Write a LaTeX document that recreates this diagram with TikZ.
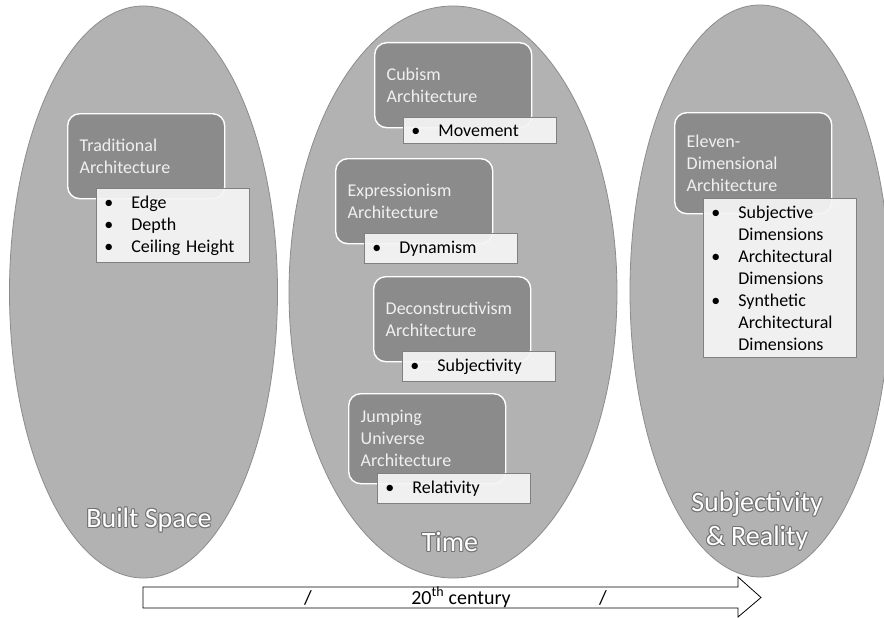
\documentclass[tikz,border=0pt]{standalone}
\usepackage{fontspec}
\setmainfont{Carlito}

\definecolor{realmfill}{gray}{0.70}
\definecolor{realmedge}{gray}{0.55}
\definecolor{archfill}{gray}{0.545}
\definecolor{zoneedge}{gray}{0.45}

\newcommand{\itm}[1]{\makebox[27pt][l]{\textbullet}#1}
% white title with a grey rim
\newcommand{\zonelabel}[3]{%
\foreach \ox/\oy in {1/0,-1/0,0/1,0/-1,0.7/0.7,-0.7/0.7,0.7/-0.7,-0.7/-0.7}{%
\node[zone,text=zoneedge,xshift=\ox pt,yshift=\oy pt]at(#2){#3};
}
\node[zone](#1)at(#2){#3};
}

\begin{document}
\begin{tikzpicture}[x=1pt,y=-1pt,
realm/.style={%
fill=realmfill,
draw=realmedge,
line width=0.8pt
},
arch/.style={%
anchor=north west,
fill=archfill,
draw=white,
line width=1.4pt,
rounded corners=12pt,
text=white!94!black,
align=left,
text width=133pt,
inner xsep=12pt,
minimum height=85pt,
font=\fontsize{18}{22}\selectfont
},
traits/.style={%
anchor=north west,
fill=white!96!black,
fill opacity=0.93,
text opacity=1,
draw=black!50,
line width=0.8pt,
align=left,
text width=137pt,
inner xsep=8pt,
inner ysep=7pt,
xshift=29pt,
yshift=11pt,
font=\fontsize{18}{22}\selectfont
},
zone/.style={%
text=white,
align=center,
font=\fontsize{28}{34}\selectfont
},
stamp/.style={%
font=\fontsize{20}{24}\selectfont
},
]
\useasboundingbox (0,0) rectangle (884,618);
%% Realms
\draw[realm] (143.5,292) ellipse [x radius=134, y radius=286];
\draw[realm] (453,292) ellipse [x radius=164, y radius=286];
\draw[realm] (760,291) ellipse [x radius=130, y radius=286];
%% Built space
\node[arch](trad)at(67,113){Traditional\\Architecture};
\node[traits](tradpts)at(trad.south west){\itm{Edge}\\\itm{Depth}\\\itm{Ceiling Height}};
%% Time
\node[arch](cubism)at(374,42){Cubism\\Architecture};
\node[traits](cubismpts)at(cubism.south west){\itm{Movement}};
\node[arch](expr)at(335,158){Expressionism\\Architecture};
\node[traits](exprpts)at(expr.south west){\itm{Dynamism}};
\node[arch](decon)at(373,276){Deconstructivism\\Architecture};
\node[traits](deconpts)at(decon.south west){\itm{Subjectivity}};
\node[arch,minimum height=90pt](jump)at(348,393){Jumping\\Universe\\Architecture};
\node[traits](jumppts)at(jump.south west){\itm{Relativity}};
%% Subjectivity & reality
\node[arch,minimum height=101pt](eleven)at(674,112){Eleven-\\Dimensional\\Architecture};
\node[traits,yshift=5pt](elevenpts)at(eleven.south west){\itm{Subjective}\\\hspace*{27pt}Dimensions\\
\itm{Architectural}\\\hspace*{27pt}Dimensions\\
\itm{Synthetic}\\\hspace*{27pt}Architectural\\\hspace*{27pt}Dimensions};
%% Zone titles
\zonelabel{built}{149,520}{Built Space}
\zonelabel{time}{450,542}{Time}
\zonelabel{reality}{757,521}{Subjectivity\\\& Reality}
%% Century arrow
\draw[fill=white,line width=0.8pt] (143,587)--(738,587)--(738,577)--(761,597.5)--(738,617)--(738,608)--(143,608)--cycle;
\node[stamp](century)at(461,597){20\textsuperscript{th} century};
\node[stamp](slashA)at(308,598){/};
\node[stamp](slashB)at(603,598){/};
\end{tikzpicture}
\end{document}
